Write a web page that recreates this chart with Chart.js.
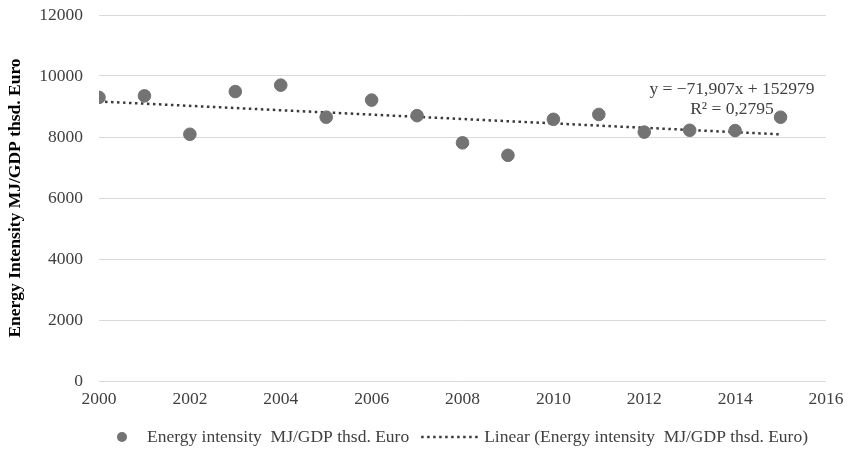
<!DOCTYPE html>
<html>
<head>
<meta charset="utf-8">
<script src="https://cdn.jsdelivr.net/npm/chart.js@4/dist/chart.umd.min.js"></script>
<style>
  html, body { margin: 0; padding: 0; background: #fff; }
  #wrap { width: 849px; height: 456px; }
</style>
</head>
<body>
<div id="wrap"><canvas id="c" width="849" height="456"></canvas></div>
<script>
// Energy intensity, MJ per thousand Euro of GDP
const years = [2000, 2001, 2002, 2003, 2004, 2005, 2006, 2007, 2008, 2009, 2010, 2011, 2012, 2013, 2014, 2015];
const intensity = [9300, 9350, 8090, 9490, 9700, 8650, 9210, 8700, 7810, 7400, 8580, 8740, 8160, 8220, 8210, 8650];

// Linear trend coefficients as printed on the chart
const trendSlope = -71.907;
const trendIntercept = 152979;
const trendLabel = ['y = \u221271,907x + 152979', 'R\u00b2 = 0,2795'];

const seriesName = 'Energy intensity  MJ/GDP thsd. Euro';
const trendName = 'Linear (Energy intensity  MJ/GDP thsd. Euro)';
const yTitle = 'Energy Intensity MJ/GDP thsd. Euro';

const FONT = '"Liberation Serif", "Times New Roman", serif';
const FS = 17.5;
const pointColor = '#737373';
const trendColor = '#3a3a3a';
const textColor = '#404040';

const points = years.map((x, i) => ({ x, y: intensity[i] }));
const trendEnds = [years[0], years[years.length - 1]];
const trendPoints = trendEnds.map(x => ({ x, y: trendSlope * x + trendIntercept }));

// Equation label and custom legend
const overlay = {
  id: 'overlay',
  afterDraw(chart) {
    const ctx = chart.ctx;
    const area = chart.chartArea;
    ctx.save();
    ctx.font = FS + 'px ' + FONT;
    ctx.fillStyle = textColor;
    ctx.textBaseline = 'middle';
    ctx.textAlign = 'center';
    const ex = area.right - 94;
    ctx.fillText(trendLabel[0], ex, area.top + 74);
    ctx.fillText(trendLabel[1], ex, area.top + 94);

    // legend row
    const ly = 437;
    const w1 = ctx.measureText(seriesName).width;
    const w2 = ctx.measureText(trendName).width;
    const markerGap = 24, sampleLen = 58, sampleGap = 5, itemGap = 12;
    const total = 6 + markerGap + w1 + itemGap + sampleLen + sampleGap + w2;
    let x = (area.left + area.right) / 2 - total / 2;
    ctx.fillStyle = pointColor;
    ctx.beginPath();
    ctx.arc(x + 5, ly, 5, 0, Math.PI * 2);
    ctx.fill();
    x += 6 + markerGap;
    ctx.fillStyle = textColor;
    ctx.textAlign = 'left';
    ctx.fillText(seriesName, x, ly);
    x += w1 + itemGap;
    ctx.strokeStyle = trendColor;
    ctx.lineWidth = 2.5;
    ctx.setLineDash([2.5, 3.5]);
    ctx.beginPath();
    ctx.moveTo(x, ly);
    ctx.lineTo(x + sampleLen, ly);
    ctx.stroke();
    ctx.setLineDash([]);
    x += sampleLen + sampleGap;
    ctx.fillText(trendName, x, ly);
    ctx.restore();
  }
};

new Chart(document.getElementById('c'), {
  type: 'scatter',
  data: {
    datasets: [
      {
        label: trendName,
        type: 'line',
        data: trendPoints,
        borderColor: trendColor,
        borderWidth: 2.5,
        borderDash: [2.5, 3.5],
        pointRadius: 0,
        fill: false,
        order: 1
      },
      {
        label: seriesName,
        data: points,
        backgroundColor: pointColor,
        borderColor: pointColor,
        pointRadius: 6.3,
        pointHoverRadius: 6.3,
        order: 0
      }
    ]
  },
  options: {
    responsive: false,
    animation: false,
    layout: { padding: { left: 0, right: 23, top: 15, bottom: 0 } },
    plugins: { legend: { display: false }, tooltip: { enabled: false } },
    scales: {
      x: {
        type: 'linear',
        min: 2000,
        max: 2016,
        afterFit(scale) {
          scale.height = 75;
          scale.paddingLeft = 0;
          scale.paddingRight = 0;
        },
        grid: { display: false, drawTicks: false },
        border: { display: false },
        ticks: {
          stepSize: 2,
          padding: 8,
          color: textColor,
          font: { family: FONT, size: FS },
          callback: v => String(v),
          maxRotation: 0
        }
      },
      y: {
        min: 0,
        max: 12000,
        afterFit(scale) {
          scale.width = 99;
          scale.paddingTop = 0;
          scale.paddingBottom = 0;
        },
        grid: { color: '#d9d9d9', lineWidth: 1, drawTicks: false },
        border: { display: false },
        ticks: {
          stepSize: 2000,
          padding: 16,
          color: textColor,
          font: { family: FONT, size: FS },
          callback: v => String(v)
        },
        title: {
          display: true,
          text: yTitle,
          color: '#000',
          font: { family: FONT, size: FS, weight: 'bold' },
          padding: { top: 5, bottom: 0 }
        }
      }
    }
  },
  plugins: [overlay]
});
</script>
</body>
</html>
